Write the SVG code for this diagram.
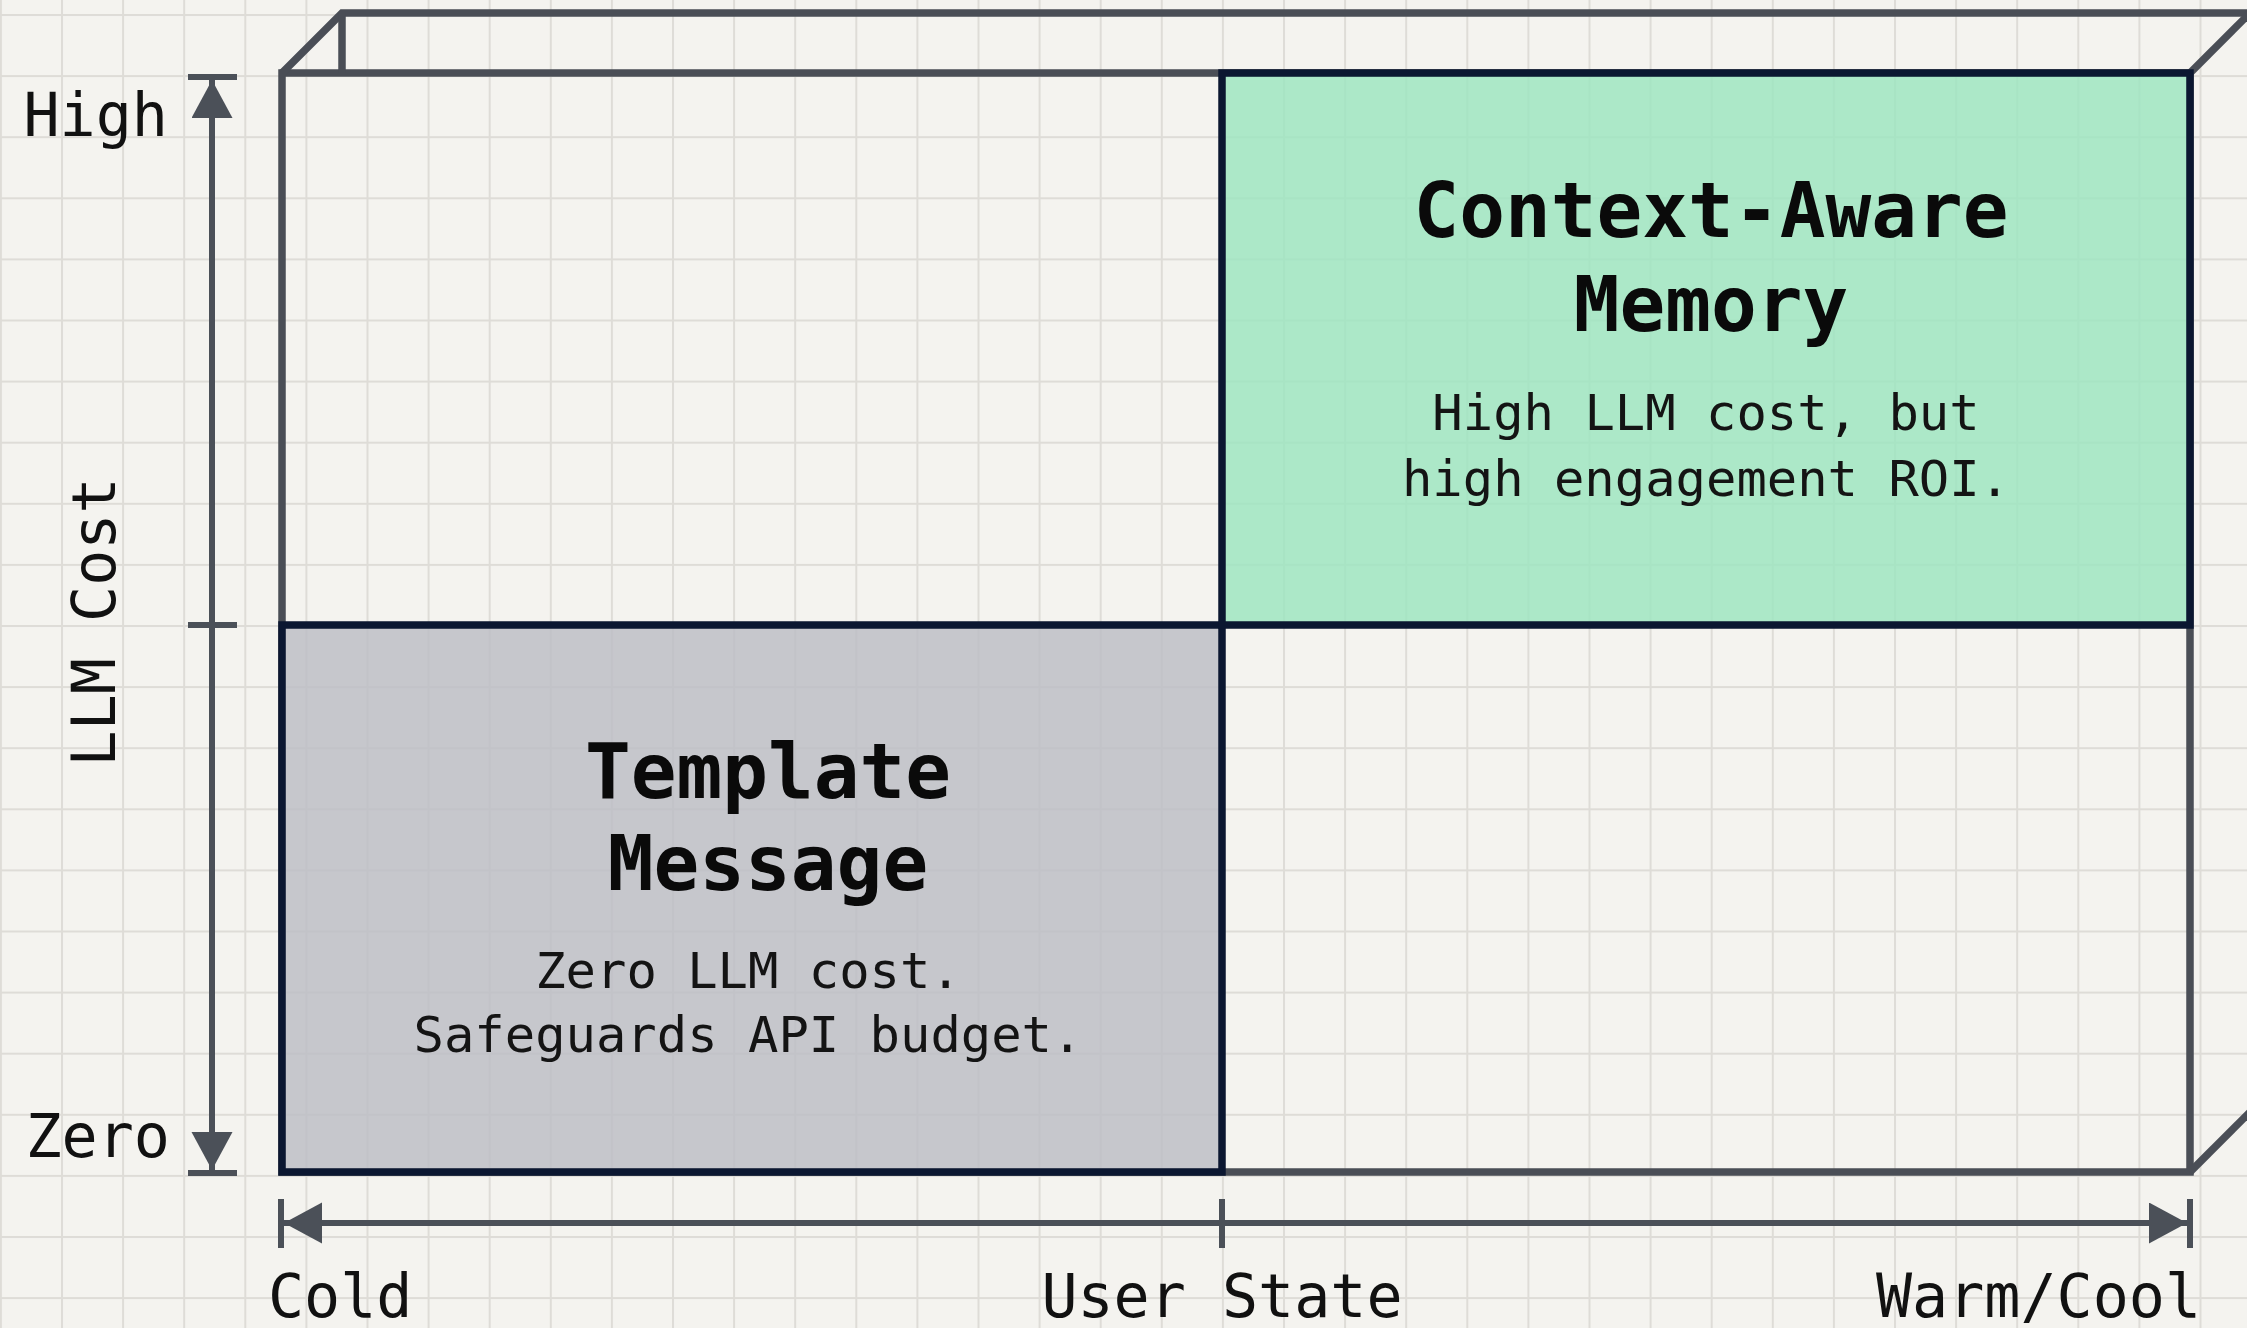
<svg xmlns="http://www.w3.org/2000/svg" width="2247" height="1328" viewBox="0 0 2247 1328">
  <defs>
    <pattern id="grid" x="-0.1" y="14" width="61.1" height="61.1" patternUnits="userSpaceOnUse">
      <rect x="0" y="0" width="2" height="61.1" fill="#dedcd7"/>
      <rect x="0" y="0" width="61.1" height="2" fill="#dedcd7"/>
    </pattern>
    <marker id="arrow" markerUnits="userSpaceOnUse" markerWidth="40" markerHeight="42" refX="38" refY="20.5" orient="auto-start-reverse" viewBox="0 0 40 42">
      <path d="M0,0 L38,20.5 L0,41 Z" fill="#4b5058"/>
    </marker>
    <style>
      .frame { fill: none; stroke: #4a4e56; stroke-width: 7.5; stroke-linejoin: miter; }
      .axis { fill: none; stroke: #4b5058; stroke-width: 6; }
      .quad { stroke: #0b1731; stroke-width: 7.5; }
      .lbl { font-family: "DejaVu Sans Mono", "Liberation Mono", monospace; font-size: 60px; fill: #111111; }
      .title { font-family: "DejaVu Sans Mono", "Liberation Mono", monospace; font-size: 76px; font-weight: bold; fill: #0a0a0a; text-anchor: middle; }
      .sub { font-family: "DejaVu Sans Mono", "Liberation Mono", monospace; font-size: 50.5px; fill: #141414; text-anchor: middle; }
    </style>
  </defs>

  <rect x="0" y="0" width="2247" height="1328" fill="#f4f3ef"/>
  <rect x="0" y="0" width="2247" height="1328" fill="url(#grid)"/>

  <g id="frame">
    <path class="frame" d="M282,1172 L282,73 L2190,73 L2190,1172 Z"/>
    <path class="frame" d="M282,73 L342,13 L2260,13"/>
    <path class="frame" d="M342,13 L342,73"/>
    <path class="frame" d="M2190,73 L2250,13"/>
    <path class="frame" d="M2190,1172 L2250,1112"/>
  </g>

  <g id="node-template-message">
    <rect class="quad" x="282" y="625" width="940" height="547" fill="#bdbec5" fill-opacity="0.85"/>
    <text class="title" x="768" y="798">Template</text>
    <text class="title" x="768" y="890">Message</text>
    <text class="sub" x="748" y="988">Zero LLM cost.</text>
    <text class="sub" x="748" y="1052">Safeguards API budget.</text>
  </g>

  <g id="node-context-aware-memory">
    <rect class="quad" x="1222" y="73" width="968" height="552" fill="#9fe5c1" fill-opacity="0.85"/>
    <text class="title" x="1711" y="237">Context-Aware</text>
    <text class="title" x="1711" y="331">Memory</text>
    <text class="sub" x="1706" y="430">High LLM cost, but</text>
    <text class="sub" x="1706" y="496">high engagement ROI.</text>
  </g>

  <g id="connectors">
    <g id="y-axis">
      <line class="axis" x1="212" y1="1170" x2="212" y2="80" marker-start="url(#arrow)" marker-end="url(#arrow)"/>
      <line class="axis" x1="188" y1="77" x2="237" y2="77"/>
      <line class="axis" x1="188" y1="625" x2="237" y2="625"/>
      <line class="axis" x1="188" y1="1173" x2="237" y2="1173"/>
    </g>
    <g id="x-axis">
      <line class="axis" x1="284" y1="1223" x2="2187" y2="1223" marker-start="url(#arrow)" marker-end="url(#arrow)"/>
      <line class="axis" x1="281" y1="1199" x2="281" y2="1248"/>
      <line class="axis" x1="1222" y1="1199" x2="1222" y2="1248"/>
      <line class="axis" x1="2190" y1="1199" x2="2190" y2="1248"/>
    </g>
  </g>

  <g id="axis-labels">
    <text class="lbl" x="168" y="136" text-anchor="end">High</text>
    <text class="lbl" x="170" y="1157" text-anchor="end">Zero</text>
    <text class="lbl" transform="translate(115,622) rotate(-90)" text-anchor="middle">LLM Cost</text>
    <text class="lbl" x="268" y="1317">Cold</text>
    <text class="lbl" x="1222" y="1317" text-anchor="middle">User State</text>
    <text class="lbl" x="2201" y="1317" text-anchor="end">Warm/Cool</text>
  </g>
</svg>
